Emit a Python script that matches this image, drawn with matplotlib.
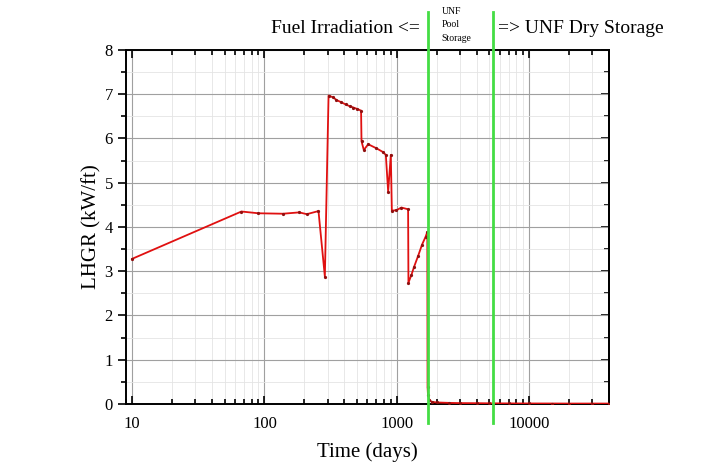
import numpy as np
import matplotlib.pyplot as plt
from matplotlib.ticker import LogLocator, NullFormatter, MultipleLocator, FixedLocator

plt.rcParams['font.family'] = ['Liberation Serif', 'DejaVu Serif']

# LHGR history (days, kW/ft)
days = [10, 67, 90, 138, 183, 209, 256, 286, 305, 330, 350, 380, 410, 440, 470,
        500, 537, 541, 563, 608, 700, 780, 826, 860, 901, 917, 993, 1083, 1217,
        1224, 1290, 1350, 1450, 1550, 1650, 1700, 1707, 1720, 1760, 1830, 2000,
        2500, 3000, 4000, 5000, 7000, 10000, 15000, 20000, 30000, 40000]
lhgr = [3.28, 4.35, 4.31, 4.30, 4.33, 4.29, 4.36, 2.88, 6.97, 6.93, 6.87, 6.82,
        6.77, 6.73, 6.70, 6.67, 6.63, 5.94, 5.74, 5.87, 5.78, 5.70, 5.63, 4.80,
        5.63, 4.37, 4.38, 4.44, 4.40, 2.74, 2.92, 3.10, 3.35, 3.60, 3.78, 3.89,
        0.39, 0.20, 0.10, 0.05, 0.035, 0.025, 0.02, 0.018, 0.015, 0.013, 0.012,
        0.011, 0.01, 0.01, 0.01]

pool_start = 1707
dry_start = 5370

fig = plt.figure(figsize=(7.08, 4.69), dpi=100)
ax = fig.add_axes([0.178, 0.1386, 0.682, 0.7548])

ax.plot(days, lhgr, color='#e01010', lw=1.3, marker='o', ms=1.3,
        mfc='#901010', mec='#901010', zorder=3)

for xv in (pool_start, dry_start):
    ax.axvline(xv, ymin=-0.054, ymax=1.107, color='#44dd44', lw=2,
               clip_on=False, zorder=4)

ax.set_xscale('log')
ax.set_xlim(9, 40000)
ax.set_ylim(0, 8)
ax.xaxis.set_major_locator(FixedLocator([10, 100, 1000, 10000]))
ax.set_xticklabels(['10', '100', '1000', '10000'])
ax.xaxis.set_minor_locator(LogLocator(base=10, subs=np.arange(2, 10)))
ax.xaxis.set_minor_formatter(NullFormatter())
ax.yaxis.set_major_locator(MultipleLocator(1))
ax.yaxis.set_minor_locator(MultipleLocator(0.5))

ax.grid(which='major', color='#a0a0a0', lw=0.8)
ax.grid(which='minor', color='#e4e4e4', lw=0.6)
ax.set_axisbelow(True)

ax.tick_params(axis='x', which='both', direction='in', top=True, pad=9)
ax.tick_params(axis='y', which='both', direction='out', right=False)
ax.tick_params(which='both', labelsize=12, width=1.2)
ax.tick_params(which='major', length=6)
ax.tick_params(which='minor', length=3.5)
for sp in ax.spines.values():
    sp.set_linewidth(1.4)

# right-hand ticks point inward
sec = ax.secondary_yaxis('right')
sec.yaxis.set_major_locator(MultipleLocator(1))
sec.yaxis.set_minor_locator(MultipleLocator(0.5))
sec.tick_params(which='both', direction='in', width=1.2, labelright=False)
sec.tick_params(which='major', length=6)
sec.tick_params(which='minor', length=3.5)
sec.spines['right'].set_linewidth(1.4)

ax.set_xlabel('Time (days)', fontsize=15, labelpad=7)
ax.set_ylabel('LHGR (kW/ft)', fontsize=15, labelpad=2)

fig.text(0.593, 0.94, 'Fuel Irradiation <=', fontsize=14, ha='right', va='center')
fig.text(0.703, 0.94, '=> UNF Dry Storage', fontsize=14, ha='left', va='center')
fig.text(0.624, 0.947, 'UNF\nPool\nStorage', fontsize=7, ha='left', va='center',
         linespacing=1.6)

fig.savefig('out.png', dpi=100)
